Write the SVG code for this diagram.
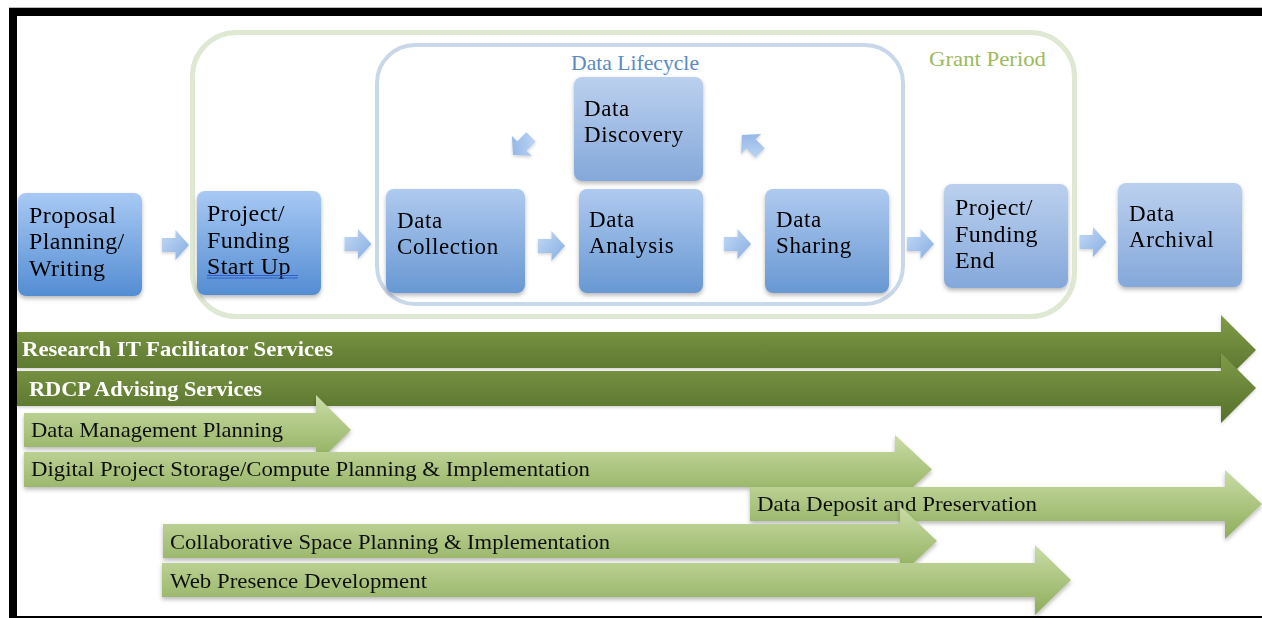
<svg xmlns="http://www.w3.org/2000/svg" width="1262" height="618" viewBox="0 0 1262 618">
  <style>
    .nt { font-family: "Liberation Serif", "Times New Roman", serif; font-size: 24px; fill: #000; letter-spacing: 0.4px; }
    .nt2 { font-family: "Liberation Serif", "Times New Roman", serif; font-size: 23px; fill: #000; letter-spacing: 0.6px; }
    .band-dark { font-family: "Liberation Serif", "Times New Roman", serif; font-size: 21px; font-weight: bold; fill: #fff; }
    .band-light { font-family: "Liberation Serif", "Times New Roman", serif; font-size: 21px; fill: #111; }
    .frame-title { font-family: "Liberation Serif", "Times New Roman", serif; font-size: 21px; }
  </style>
  <defs>
    <linearGradient id="gBox1" x1="0" y1="0" x2="0" y2="1">
      <stop offset="0" stop-color="#a8c9f4"/>
      <stop offset="1" stop-color="#548dd3"/>
    </linearGradient>
    <linearGradient id="gBox2" x1="0" y1="0" x2="0" y2="1">
      <stop offset="0" stop-color="#afcaef"/>
      <stop offset="1" stop-color="#6898d3"/>
    </linearGradient>
    <linearGradient id="gBox3" x1="0" y1="0" x2="0" y2="1">
      <stop offset="0" stop-color="#bbd0ee"/>
      <stop offset="1" stop-color="#84a8da"/>
    </linearGradient>
    <linearGradient id="gStep" x1="0" y1="0" x2="1" y2="1">
      <stop offset="0" stop-color="#c4daf6"/>
      <stop offset="1" stop-color="#86ade2"/>
    </linearGradient>
    <linearGradient id="gDark" x1="0" y1="0" x2="0" y2="1">
      <stop offset="0" stop-color="#809b47"/>
      <stop offset="1" stop-color="#55702b"/>
    </linearGradient>
    <linearGradient id="gLight" x1="0" y1="0" x2="0" y2="1">
      <stop offset="0" stop-color="#cadca6"/>
      <stop offset="1" stop-color="#8dad5a"/>
    </linearGradient>
    <filter id="shadow" x="-5%" y="-10%" width="110%" height="130%">
      <feDropShadow dx="0" dy="2.5" stdDeviation="2" flood-color="#000" flood-opacity="0.28"/>
    </filter>
    <filter id="softShadow" x="-5%" y="-10%" width="110%" height="130%">
      <feDropShadow dx="0" dy="1.5" stdDeviation="1.5" flood-color="#000" flood-opacity="0.18"/>
    </filter>
    <!-- small block arrow centred on its own origin -->
    <path id="step" d="M-13.5,-7 H0 V-15 L13.5,0 L0,15 V7 H-13.5 Z"/>
  </defs>

  <rect x="0" y="0" width="1262" height="618" fill="#fff"/>

  <!-- page frame -->
  <g id="frame">
    <rect x="9" y="7" width="1253" height="1" fill="#bbb"/>
    <rect x="9" y="8" width="1253" height="8" fill="#000"/>
    <rect x="9" y="8" width="8" height="610" fill="#000"/>
    <rect x="9" y="616" width="1253" height="2" fill="#000"/>
  </g>

  <!-- grouping frames -->
  <g id="grant-period">
    <rect x="192.5" y="32.5" width="882" height="284" rx="44" fill="none" stroke="#dfe8d2" stroke-width="5"/>
    <text x="929" y="66" class="frame-title" fill="#9bbb5c" textLength="117" lengthAdjust="spacingAndGlyphs">Grant Period</text>
  </g>
  <g id="data-lifecycle">
    <rect x="377" y="45" width="526" height="259" rx="38" fill="none" stroke="#c9d7ea" stroke-width="4"/>
    <text x="571" y="70" class="frame-title" fill="#5a8ac4" textLength="128" lengthAdjust="spacingAndGlyphs">Data Lifecycle</text>
  </g>

  <!-- process steps -->
  <g id="proposal" filter="url(#shadow)">
    <rect x="18" y="193" width="124" height="103" rx="8" fill="url(#gBox1)"/>
    <text class="nt"><tspan x="29" y="223">Proposal</tspan><tspan x="29" y="249">Planning/</tspan><tspan x="29" y="276">Writing</tspan></text>
  </g>
  <g id="project-start" filter="url(#shadow)">
    <rect x="197" y="191" width="124" height="104" rx="8" fill="url(#gBox1)"/>
    <text class="nt"><tspan x="207" y="221">Project/</tspan><tspan x="207" y="248">Funding</tspan><tspan x="207" y="274">Start Up</tspan></text>
    <line x1="207" y1="275.5" x2="298" y2="275.5" stroke="#2f5fc8" stroke-width="1"/>
    <line x1="207" y1="278" x2="298" y2="278" stroke="#2f5fc8" stroke-width="1"/>
  </g>
  <g id="data-collection" filter="url(#shadow)">
    <rect x="386" y="189" width="139" height="104" rx="8" fill="url(#gBox2)"/>
    <text class="nt2"><tspan x="397" y="228">Data</tspan><tspan x="397" y="254">Collection</tspan></text>
  </g>
  <g id="data-discovery" filter="url(#shadow)">
    <rect x="574" y="77" width="129" height="104" rx="8" fill="url(#gBox3)"/>
    <text class="nt2"><tspan x="584" y="116">Data</tspan><tspan x="584" y="142">Discovery</tspan></text>
  </g>
  <g id="data-analysis" filter="url(#shadow)">
    <rect x="579" y="189" width="124" height="104" rx="8" fill="url(#gBox2)"/>
    <text class="nt2"><tspan x="589" y="227">Data</tspan><tspan x="589" y="253">Analysis</tspan></text>
  </g>
  <g id="data-sharing" filter="url(#shadow)">
    <rect x="765" y="189" width="124" height="104" rx="8" fill="url(#gBox2)"/>
    <text class="nt2"><tspan x="776" y="227">Data</tspan><tspan x="776" y="253">Sharing</tspan></text>
  </g>
  <g id="project-end" filter="url(#shadow)">
    <rect x="944" y="184" width="124" height="104" rx="8" fill="url(#gBox3)"/>
    <text class="nt"><tspan x="955" y="215">Project/</tspan><tspan x="955" y="242">Funding</tspan><tspan x="955" y="268">End</tspan></text>
  </g>
  <g id="data-archival" filter="url(#shadow)">
    <rect x="1118" y="183" width="124" height="104" rx="8" fill="url(#gBox3)"/>
    <text class="nt2"><tspan x="1129" y="221">Data</tspan><tspan x="1129" y="247">Archival</tspan></text>
  </g>

  <!-- flow arrows between steps -->
  <g id="connectors" fill="url(#gStep)" filter="url(#softShadow)">
    <use href="#step" transform="translate(175.5,245)"/>
    <use href="#step" transform="translate(358,244)"/>
    <use href="#step" transform="translate(551.5,246)"/>
    <use href="#step" transform="translate(737.5,244)"/>
    <use href="#step" transform="translate(920.5,244)"/>
    <use href="#step" transform="translate(1093,242)"/>
    <use href="#step" transform="translate(522,146) rotate(135) scale(0.95)"/>
    <use href="#step" transform="translate(751,144) rotate(-135) scale(0.95)"/>
  </g>

  <!-- service timelines -->
  <g id="research-it" filter="url(#softShadow)">
    <path d="M17,332 H1221 V315 L1256,350 L1221,385 V368 H17 Z" fill="url(#gDark)"/>
    <text x="22" y="356" class="band-dark" textLength="311" lengthAdjust="spacingAndGlyphs">Research IT Facilitator Services</text>
  </g>
  <g id="rdcp-advising" filter="url(#softShadow)">
    <path d="M17,371 H1221 V353 L1256,388 L1221,423 V406 H17 Z" fill="url(#gDark)"/>
    <text x="29" y="396" class="band-dark" textLength="233" lengthAdjust="spacingAndGlyphs">RDCP Advising Services</text>
  </g>
  <g id="dm-planning" filter="url(#shadow)">
    <path d="M24,413 H316 V395 L351,430 L316,465 V447 H24 Z" fill="url(#gLight)"/>
    <text x="31" y="437" class="band-light" textLength="252" lengthAdjust="spacingAndGlyphs">Data Management Planning</text>
  </g>
  <g id="storage-compute" filter="url(#shadow)">
    <path d="M24,452 H895 V435 L932,469.5 L895,504 V487 H24 Z" fill="url(#gLight)"/>
    <text x="31" y="476" class="band-light" textLength="559" lengthAdjust="spacingAndGlyphs">Digital Project Storage/Compute Planning &amp; Implementation</text>
  </g>
  <g id="deposit-preservation" filter="url(#shadow)">
    <path d="M750,487 H1225 V470 L1262,504 L1225,539 V521 H750 Z" fill="url(#gLight)"/>
    <text x="757" y="511" class="band-light" textLength="280" lengthAdjust="spacingAndGlyphs">Data Deposit and Preservation</text>
  </g>
  <g id="collab-space" filter="url(#shadow)">
    <path d="M163,524 H900 V506 L937,541 L900,576 V558 H163 Z" fill="url(#gLight)"/>
    <text x="170" y="549" class="band-light" textLength="440" lengthAdjust="spacingAndGlyphs">Collaborative Space Planning &amp; Implementation</text>
  </g>
  <g id="web-presence" filter="url(#shadow)">
    <path d="M162,563 H1035 V545 L1071,580 L1035,615 V597 H162 Z" fill="url(#gLight)"/>
    <text x="170" y="588" class="band-light" textLength="257" lengthAdjust="spacingAndGlyphs">Web Presence Development</text>
  </g>
</svg>
